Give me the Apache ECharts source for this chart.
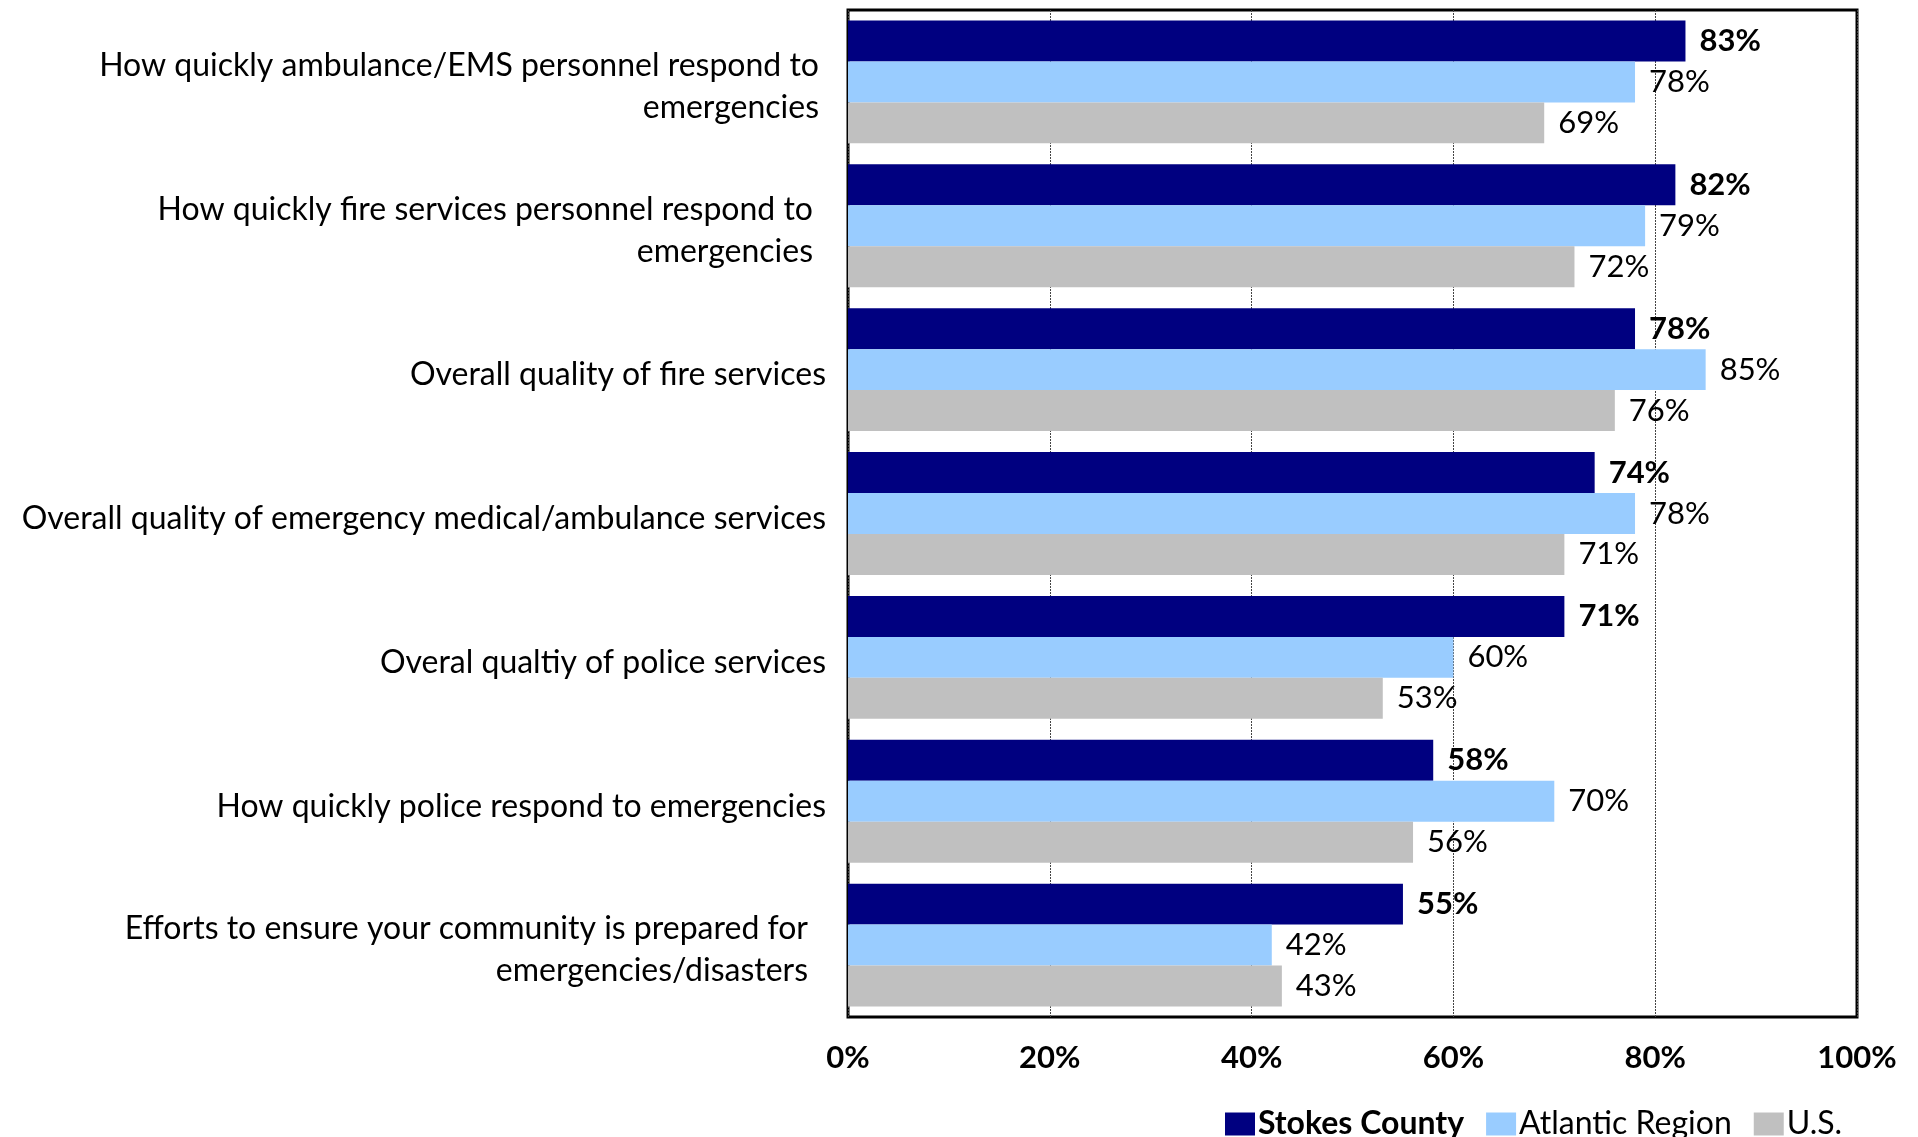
<!DOCTYPE html>
<html>
<head>
<meta charset="utf-8">
<title>Emergency services ratings</title>
<script src="https://cdn.jsdelivr.net/npm/echarts@6/dist/echarts.min.js"></script>
<style>
  html, body { margin: 0; padding: 0; background: #fff; }
  #main-chart { width: 1918px; height: 1137px; }
</style>
</head>
<body>
<div id="main-chart"></div>
<script>
// categories, top to bottom
const categories = [
  'How quickly ambulance/EMS personnel respond to\nemergencies',
  'How quickly fire services personnel respond to\nemergencies',
  'Overall quality of fire services',
  'Overall quality of emergency medical/ambulance services',
  'Overal qualtiy of police services',
  'How quickly police respond to emergencies',
  'Efforts to ensure your community is prepared for\nemergencies/disasters'
]
const seriesNames = ['Stokes County', 'Atlantic Region', 'U.S.']
const stokesCounty = [83, 82, 78, 74, 71, 58, 55]
const atlanticRegion = [78, 79, 85, 78, 60, 70, 42]
const usValues = [69, 72, 76, 71, 53, 56, 43]
const xTicks = [0, 20, 40, 60, 80, 100]

const FONT = 'Lato'
const colors = ['#000080', '#99CCFF', '#C0C0C0']
// extra right padding of the wrapped labels (trailing spaces in the original)
const labelPad = [7, 13, 0, 0, 0, 0, 18]

const myChart = echarts.init(document.getElementById('main-chart'))

const makeSeries = (name, data, idx) => ({
  name: name,
  type: 'bar',
  data: data,
  barGap: '0%',
  barCategoryGap: '14.6%',
  itemStyle: { color: colors[idx] },
  label: {
    show: true,
    position: 'right',
    distance: 14,
    formatter: '{c}%',
    color: '#000',
    fontFamily: FONT,
    fontSize: 31,
    fontWeight: idx === 0 ? 'bold' : 'normal',
    padding: [4, 0, 0, 0]
  }
})

const option = {
  animation: false,
  textStyle: { fontFamily: FONT },
  grid: {
    left: 848,
    right: 61,
    top: 10,
    bottom: 120,
    show: true,
    borderColor: '#000',
    borderWidth: 3
  },
  legend: {
    left: 1220,
    top: 1103,
    itemWidth: 30,
    itemHeight: 23,
    itemGap: 22,
    icon: 'rect',
    data: seriesNames,
    formatter: (name) => name === 'Stokes County' ? '{b|' + name + '}' : name,
    textStyle: {
      fontFamily: FONT,
      fontSize: 32,
      color: '#000',
      padding: [0, 0, 0, -2],
      rich: {
        b: { fontFamily: FONT, fontSize: 32, fontWeight: 'bold', color: '#000' }
      }
    }
  },
  xAxis: {
    type: 'value',
    min: xTicks[0],
    max: xTicks[xTicks.length - 1],
    interval: 20,
    axisLine: { show: false },
    axisTick: { show: false },
    axisLabel: {
      formatter: '{value}%',
      color: '#000',
      fontFamily: FONT,
      fontSize: 31,
      fontWeight: 'bold',
      margin: 25
    },
    splitLine: {
      show: true,
      lineStyle: { color: '#444', width: 1, type: [2, 1] }
    }
  },
  yAxis: {
    type: 'category',
    inverse: true,
    data: categories,
    axisLine: { show: false },
    axisTick: { show: false },
    splitLine: { show: false },
    axisLabel: {
      color: '#000',
      fontFamily: FONT,
      fontSize: 32,
      lineHeight: 42,
      margin: 22,
      align: 'right',
      padding: [10, 0, 0, 0],
      formatter: (value, index) => '{t' + index + '|' + value + '}',
      rich: Object.fromEntries(labelPad.map((p, i) => ['t' + i, {
        fontFamily: FONT, fontSize: 32, lineHeight: 42, color: '#000', align: 'right', padding: [0, p, 0, 0]
      }]))
    }
  },
  series: [
    makeSeries(seriesNames[0], stokesCounty, 0),
    makeSeries(seriesNames[1], atlanticRegion, 1),
    makeSeries(seriesNames[2], usValues, 2)
  ]
}

myChart.setOption(option)

window.addEventListener('resize', function () {
  myChart.resize()
})
</script>
</body>
</html>
